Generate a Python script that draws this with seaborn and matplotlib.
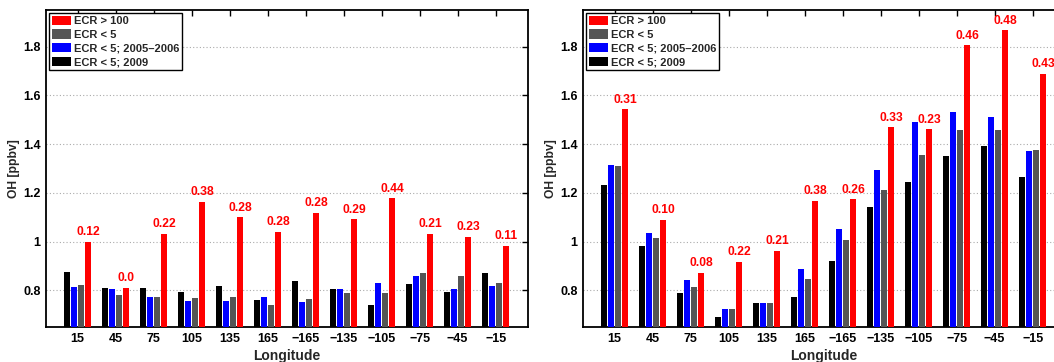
import matplotlib
matplotlib.use("Agg")
import matplotlib.pyplot as plt
import seaborn as sns
import pandas as pd
from matplotlib.patches import Patch
from matplotlib.ticker import FormatStrFormatter

M = "\u2212"
longitudes = ["15", "45", "75", "105", "135", "165",
              M + "165", M + "135", M + "105", M + "75", M + "45", M + "15"]

series_names = ["ECR < 5; 2009", "ECR < 5; 2005\u20132006", "ECR < 5", "ECR > 100"]
series_colors = ["#000000", "#0000FF", "#555555", "#FF0000"]

# Left panel
left_2009 = [0.876, 0.811, 0.811, 0.795, 0.819, 0.762, 0.840, 0.807, 0.742, 0.828, 0.795, 0.872]
left_0506 = [0.815, 0.807, 0.775, 0.758, 0.758, 0.775, 0.754, 0.807, 0.832, 0.860, 0.807, 0.819]
left_ecr5 = [0.823, 0.782, 0.775, 0.770, 0.775, 0.742, 0.766, 0.791, 0.791, 0.872, 0.860, 0.832]
left_ecr100 = [0.999, 0.811, 1.032, 1.163, 1.101, 1.040, 1.118, 1.093, 1.179, 1.032, 1.020, 0.983]
left_labels = ["0.12", "0.0", "0.22", "0.38", "0.28", "0.28", "0.28", "0.29", "0.44", "0.21", "0.23", "0.11"]

# Right panel
right_2009 = [1.232, 0.983, 0.791, 0.692, 0.750, 0.775, 0.922, 1.142, 1.245, 1.351, 1.392, 1.265]
right_0506 = [1.314, 1.036, 0.844, 0.725, 0.750, 0.889, 1.052, 1.294, 1.490, 1.531, 1.510, 1.371]
right_ecr5 = [1.310, 1.016, 0.815, 0.725, 0.750, 0.848, 1.007, 1.212, 1.355, 1.457, 1.457, 1.375]
right_ecr100 = [1.543, 1.089, 0.872, 0.918, 0.962, 1.167, 1.175, 1.470, 1.461, 1.805, 1.866, 1.689]
right_labels = ["0.31", "0.10", "0.08", "0.22", "0.21", "0.38", "0.26", "0.33", "0.23", "0.46", "0.48", "0.43"]

y_ticks = [0.8, 1.0, 1.2, 1.4, 1.6, 1.8]

sns.set_theme(style="white")
plt.rcParams["font.family"] = ["Liberation Sans", "DejaVu Sans"]
plt.rcParams["font.weight"] = "bold"
plt.rcParams["axes.labelweight"] = "bold"


def make_df(s2009, s0506, s5, s100):
    rows = []
    for name, vals in zip(series_names, [s2009, s0506, s5, s100]):
        for lon, v in zip(longitudes, vals):
            rows.append({"Longitude": lon, "OH": v, "Series": name})
    return pd.DataFrame(rows)


fig = plt.figure(figsize=(10.54, 3.62), dpi=100)
W, H = 1054.0, 362.0
ax_bottom = (H - 327) / H
ax_height = 317 / H
ax_width = 482 / W
axL = fig.add_axes([46 / W, ax_bottom, ax_width, ax_height])
axR = fig.add_axes([583 / W, ax_bottom, ax_width, ax_height])

for ax, data, labels in [
    (axL, make_df(left_2009, left_0506, left_ecr5, left_ecr100), left_labels),
    (axR, make_df(right_2009, right_0506, right_ecr5, right_ecr100), right_labels),
]:
    sns.barplot(data=data, x="Longitude", y="OH", hue="Series",
                order=longitudes, hue_order=series_names,
                palette=series_colors, width=0.737, gap=0.14,
                saturation=1, linewidth=0, edgecolor="none",
                legend=False, ax=ax, zorder=3)
    red = ax.containers[-1]
    for bar, lab in zip(red, labels):
        ax.annotate(lab, (bar.get_x() + bar.get_width() / 2, bar.get_height()),
                    xytext=(0, 2.5), textcoords="offset points",
                    ha="center", va="bottom", color="#FF0000",
                    fontsize=8.7, fontweight="bold", zorder=5)
    ax.set_ylim(0.65, 1.95)
    ax.set_xlim(-0.83, 11.85)
    ax.set_yticks(y_ticks)
    ax.yaxis.set_major_formatter(FormatStrFormatter("%g"))
    ax.yaxis.grid(True, linestyle=(0, (1, 2)), color="#aaaaaa", linewidth=0.8, zorder=0)
    ax.xaxis.grid(False)
    ax.set_axisbelow(True)
    ax.tick_params(direction="in", length=4, width=1, top=True, right=True,
                   labelsize=9, colors="black", pad=4)
    for lbl in ax.get_xticklabels() + ax.get_yticklabels():
        lbl.set_fontweight("bold")
    for sp in ax.spines.values():
        sp.set_visible(True)
        sp.set_color("black")
        sp.set_linewidth(1.3)
    ax.set_xlabel("Longitude", fontsize=10, fontweight="bold", labelpad=3)
    ax.set_ylabel("OH [ppbv]", fontsize=8.7, fontweight="bold", labelpad=2)
    handles = [Patch(facecolor=c, edgecolor="none") for c in series_colors][::-1]
    leg = ax.legend(handles, series_names[::-1], loc="upper left",
                    prop={"size": 8, "weight": "bold"},
                    handlelength=1.75, handleheight=0.9, handletextpad=0.3,
                    labelspacing=0.3, borderpad=0.25, borderaxespad=0.25,
                    fancybox=False, framealpha=1, edgecolor="black")
    leg.get_frame().set_linewidth(1.0)
    leg.set_zorder(10)

fig.savefig("out.png", dpi=100)
